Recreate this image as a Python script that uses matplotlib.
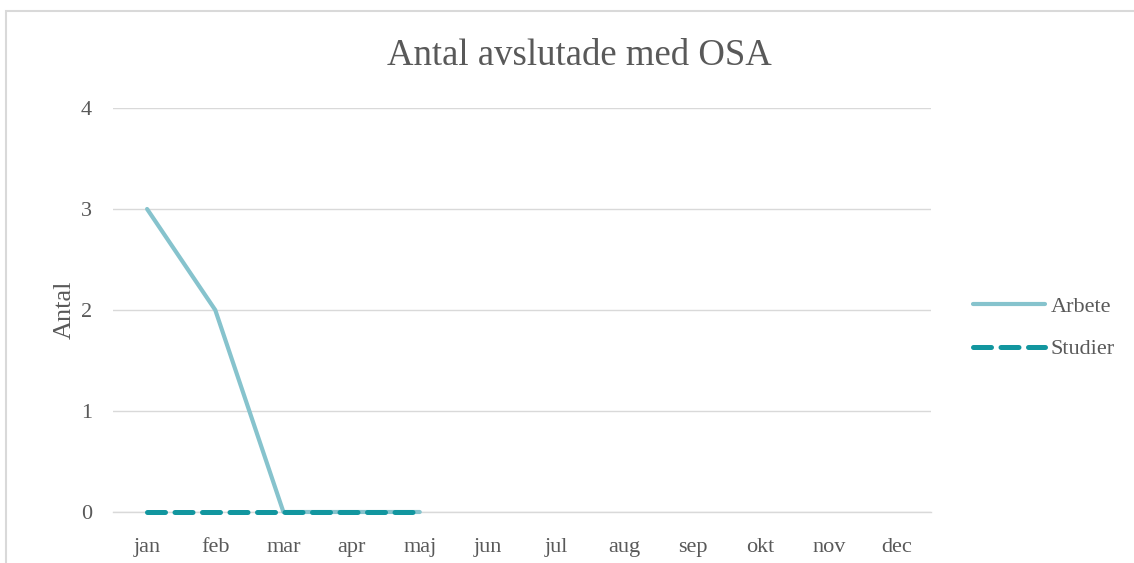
import matplotlib
matplotlib.use("Agg")
import matplotlib.pyplot as plt
from matplotlib.patches import Rectangle

months = ["jan", "feb", "mar", "apr", "maj", "jun", "jul", "aug", "sep", "okt", "nov", "dec"]
arbete = [3, 2, 0, 0, 0]
studier = [0, 0, 0, 0, 0]
yticks = [0, 1, 2, 3, 4]

plt.rcParams['font.family'] = ['Liberation Serif', 'DejaVu Serif']

fig = plt.figure(figsize=(11.34, 5.63), dpi=100)
ax = fig.add_axes([113/1134, 51/563, (931-113)/1134, (512-108)/563])

x = list(range(len(months)))
ax.plot(x[:len(arbete)], arbete, color="#86c3cd", lw=3, solid_capstyle='round', label="Arbete", zorder=3, clip_on=False)
ax.plot(x[:len(studier)], studier, color="#12969f", lw=3.6, dashes=(3.6, 1.9), dash_capstyle='round', label="Studier", zorder=4, clip_on=False)

ax.set_xlim(-0.5, len(months) - 0.5)
ax.set_ylim(0, 4)
ax.set_xticks(x)
ax.set_xticklabels(months)
ax.set_yticks(yticks)
ax.grid(axis='y', color="#d9d9d9", lw=1)
ax.axhline(0, color="#d9d9d9", lw=1, clip_on=False, zorder=1)
ax.set_axisbelow(True)
for s in ax.spines.values():
    s.set_visible(False)
ax.tick_params(length=0, labelsize=16, labelcolor="#595959")
ax.tick_params(axis='x', pad=19)
ax.tick_params(axis='y', pad=15)
ax.set_ylabel("Antal", fontsize=19, color="#595959", labelpad=4)

fig.text(579/1134, 1 - 56/563, "Antal avslutade med OSA", ha='center', va='center', fontsize=26.5, color="#595959")

leg = fig.legend(loc='upper left', bbox_to_anchor=(953/1134, 1 - 276/563), frameon=False,
                 fontsize=16, handlelength=3.25, labelspacing=1.0, handletextpad=0.25)
for t in leg.get_texts():
    t.set_color("#595959")

fig.patches.append(Rectangle((6/1134, -0.1), 1.2, 1 - 11/563 + 0.1, transform=fig.transFigure,
                             fill=False, edgecolor="#d9d9d9", lw=1.5))

fig.savefig("out.png", dpi=100)
